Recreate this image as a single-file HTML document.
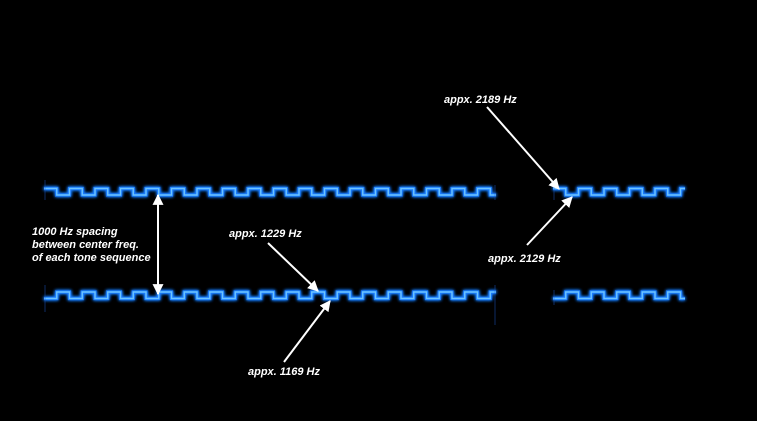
<!DOCTYPE html>
<html><head><meta charset="utf-8">
<style>
html,body{margin:0;padding:0;background:#000;}
svg{display:block;}
text{font-family:"Liberation Sans",sans-serif;font-style:italic;font-weight:bold;font-size:11px;fill:#fff;}
</style></head>
<body>
<svg id="s" width="757" height="421" viewBox="0 0 757 421" xmlns="http://www.w3.org/2000/svg">
<defs>
<filter id="g" x="-10%" y="-200%" width="120%" height="500%">
<feGaussianBlur stdDeviation="1.5" result="b"/>
<feMerge><feMergeNode in="b"/><feMergeNode in="b"/><feMergeNode in="SourceGraphic"/></feMerge>
</filter>
<marker id="ah" viewBox="0 0 10 10" refX="9" refY="5" markerWidth="5.5" markerHeight="5.5" orient="auto-start-reverse">
<path d="M0,0 L10,5 L0,10 z" fill="#fff"/>
</marker>
</defs>
<g id="waves" filter="url(#g)" fill="none" stroke="#1a7dff" stroke-width="3.2"></g>
<g id="wavesc" fill="none" stroke="#6cc4ff" stroke-width="1.4"></g>
<g stroke="#1f5fd0" stroke-width="1.2" opacity="0.4">
<line x1="45" y1="180" x2="45" y2="200"/>
<line x1="45" y1="285" x2="45" y2="312"/>
<line x1="495" y1="185" x2="495" y2="200"/>
<line x1="495" y1="285" x2="495" y2="325"/>
<line x1="554" y1="185" x2="554" y2="200"/>
<line x1="554" y1="290" x2="554" y2="305"/>
</g>
<g stroke="#fff" stroke-width="2" fill="none">
<line x1="158" y1="195" x2="158" y2="294" marker-start="url(#ah)" marker-end="url(#ah)"/>
<line x1="268" y1="243" x2="318" y2="291" marker-end="url(#ah)"/>
<line x1="284" y1="362" x2="330" y2="301" marker-end="url(#ah)"/>
<line x1="487" y1="107" x2="559" y2="189" marker-end="url(#ah)"/>
<line x1="527" y1="245" x2="572" y2="197" marker-end="url(#ah)"/>
</g>
<text x="444" y="103">appx. 2189 Hz</text>
<text x="488" y="262">appx. 2129 Hz</text>
<text x="229" y="237">appx. 1229 Hz</text>
<text x="248" y="375">appx. 1169 Hz</text>
<text x="32" y="235">1000 Hz spacing</text>
<text x="32" y="248">between center freq.</text>
<text x="32" y="261">of each tone sequence</text>
</svg>
<script>
(function(){
function wave(x0,x1,hi,lo,startHigh){
  var half=12.75,d="",x=x0,h=startHigh;
  d="M"+x0+" "+(h?hi:lo);
  while(x<x1){
    var nx=Math.min(x+half,x1);
    d+=" L"+nx.toFixed(2)+" "+(h?hi:lo);
    x=nx;
    if(x<x1){h=!h;d+=" L"+x.toFixed(2)+" "+(h?hi:lo);}
  }
  return d;
}
var ds=[wave(44,496,188.5,195,true),wave(44,496,292,298.5,false),
        wave(553,685,188.5,195,true),wave(553,685,292,298.5,false)];
var ns="http://www.w3.org/2000/svg";
["waves","wavesc"].forEach(function(id){
  var g=document.getElementById(id);
  ds.forEach(function(d){var p=document.createElementNS(ns,"path");p.setAttribute("d",d);g.appendChild(p);});
});
})();
</script>
</body></html>
